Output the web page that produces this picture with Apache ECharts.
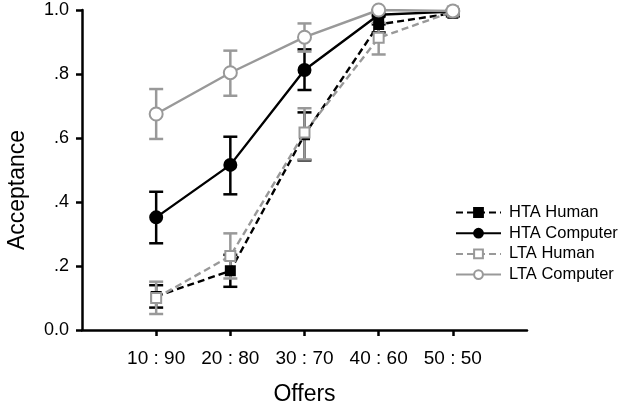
<!DOCTYPE html>
<html><head><meta charset="utf-8">
<script src="https://cdn.jsdelivr.net/npm/echarts@6/dist/echarts.min.js"></script>
<style>html,body{margin:0;padding:0;background:#fff}#c{width:629px;height:405px}</style>
</head><body><div id="c"></div>
<script>
const categories = ['10 : 90', '20 : 80', '30 : 70', '40 : 60', '50 : 50'];
const yTickLabels = ['0.0', '.2', '.4', '.6', '.8', '1.0'];
const seriesNames = ['HTA Human', 'HTA Computer', 'LTA Human', 'LTA Computer'];
const htaHuman = [0.105, 0.185, 0.61, 0.955, 0.99];
const htaHumanLow = [0.07, 0.135, 0.53, 0.93, 0.98];
const htaHumanHigh = [0.14, 0.235, 0.68, 0.98, 1.0];
const htaComputer = [0.352, 0.516, 0.8125, 0.985, 0.995];
const htaComputerLow = [0.271, 0.424, 0.75, 0.955, 0.985];
const htaComputerHigh = [0.432, 0.604, 0.877, 1.0, 1.0];
const ltaHuman = [0.10, 0.231, 0.617, 0.913, 0.995];
const ltaHumanLow = [0.05, 0.161, 0.533, 0.861, 0.985];
const ltaHumanHigh = [0.151, 0.302, 0.693, 0.96, 1.0];
const ltaComputer = [0.675, 0.804, 0.915, 1.0, 0.997];
const ltaComputerLow = [0.597, 0.732, 0.87, 0.985, 0.99];
const ltaComputerHigh = [0.753, 0.873, 0.958, 1.0, 1.0];

const BLACK = '#000000', GREY = '#999999';
const FONT = 'Liberation Sans';
const pts = arr => arr.map((v, i) => [i + 1, v]);
const errs = (lo, hi) => lo.map((v, i) => [i + 1, v, hi[i]]);

function errorSeries(name, lo, hi, color, z) {
  return {
    type: 'custom', name: name, z: z, silent: true,
    data: errs(lo, hi),
    renderItem: function (params, api) {
      const x = api.value(0);
      const a = api.coord([x, api.value(1)]);
      const b = api.coord([x, api.value(2)]);
      const w = 7;
      const st = { stroke: color, lineWidth: 2.5, fill: null };
      return { type: 'group', children: [
        { type: 'line', shape: { x1: a[0], y1: a[1], x2: b[0], y2: b[1] }, style: st },
        { type: 'line', shape: { x1: a[0] - w, y1: a[1], x2: a[0] + w, y2: a[1] }, style: st },
        { type: 'line', shape: { x1: b[0] - w, y1: b[1], x2: b[0] + w, y2: b[1] }, style: st }
      ]};
    }
  };
}

function lineSeries(name, data, color, dashed, symbol, filled, size, z) {
  return {
    type: 'line', name: name, z: z, data: pts(data),
    symbol: symbol, symbolSize: size, showSymbol: true,
    lineStyle: { color: color, width: 2.4, type: dashed ? [7, 4] : 'solid' },
    itemStyle: { color: filled ? color : '#ffffff', borderColor: color, borderWidth: 2 },
    emphasis: { disabled: true }
  };
}

const chart = echarts.init(document.getElementById('c'), null, { renderer: 'canvas' });
chart.setOption({
  animation: false,
  backgroundColor: '#ffffff',
  grid: { left: 82, right: 102, top: 10, bottom: 75, containLabel: false, outerBoundsMode: 'none' },
  legend: {
    data: seriesNames,
    orient: 'vertical', left: 450, top: 199,
    itemWidth: 45, itemHeight: 11, itemGap: 3.7,
    textStyle: { fontFamily: FONT, fontSize: 16.5, color: '#000', padding: [0, 0, 0, 3] }
  },
  xAxis: {
    type: 'value', min: 0, max: 6, interval: 1,
    name: 'Offers', nameLocation: 'middle', nameGap: 53,
    nameTextStyle: { fontFamily: FONT, fontSize: 23, color: '#000' },
    axisLine: { lineStyle: { color: '#000', width: 2.5 } },
    axisTick: { show: true, length: 6, lineStyle: { color: '#000', width: 2.5 }, customValues: [1, 2, 3, 4, 5] },
    axisLabel: { customValues: [1, 2, 3, 4, 5], formatter: v => categories[Math.round(v) - 1] || '', margin: 19,
      fontFamily: FONT, fontSize: 19, color: '#000' },
    splitLine: { show: false }
  },
  yAxis: {
    type: 'value', min: 0, max: 1, interval: 0.2,
    name: 'Acceptance', nameLocation: 'middle', nameGap: 53,
    nameTextStyle: { fontFamily: FONT, fontSize: 23, color: '#000', padding: [0, 40, 0, 0] },
    axisLine: { show: true, lineStyle: { color: '#000', width: 2.5 } },
    axisTick: { show: true, length: 6, lineStyle: { color: '#000', width: 2.5 } },
    axisLabel: { formatter: v => yTickLabels[Math.round(v * 5)], margin: 13,
      fontFamily: FONT, fontSize: 18, color: '#000' },
    splitLine: { show: false }
  },
  series: [
    errorSeries('eHH', htaHumanLow, htaHumanHigh, BLACK, 2),
    errorSeries('eHC', htaComputerLow, htaComputerHigh, BLACK, 2),
    errorSeries('eLH', ltaHumanLow, ltaHumanHigh, GREY, 2),
    errorSeries('eLC', ltaComputerLow, ltaComputerHigh, GREY, 2),
    lineSeries('HTA Human', htaHuman, BLACK, true, 'rect', true, 9, 3),
    lineSeries('HTA Computer', htaComputer, BLACK, false, 'circle', true, 12, 3),
    lineSeries('LTA Human', ltaHuman, GREY, true, 'rect', false, 10, 4),
    lineSeries('LTA Computer', ltaComputer, GREY, false, 'circle', false, 13, 4)
  ]
});
</script></body></html>
